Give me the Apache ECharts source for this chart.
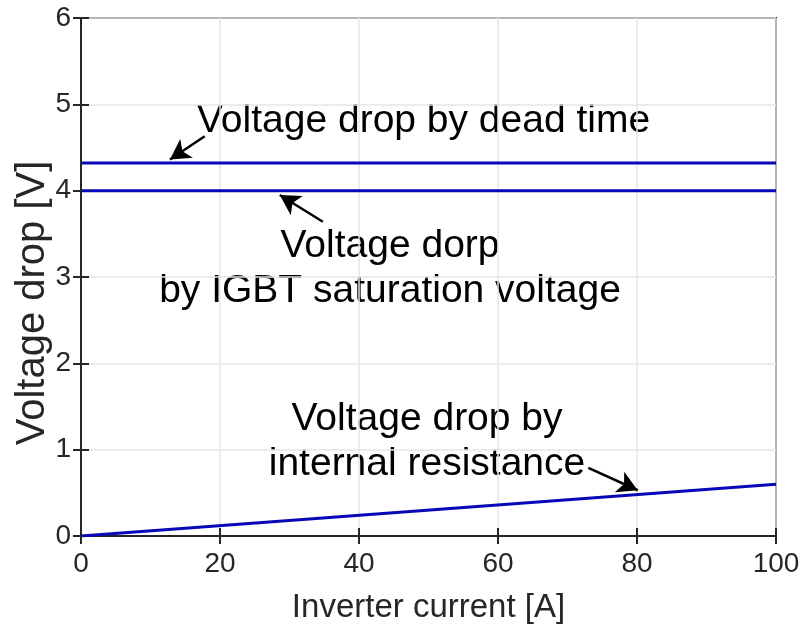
<!DOCTYPE html>
<html>
<head>
<meta charset="utf-8">
<script src="https://cdn.jsdelivr.net/npm/echarts@6/dist/echarts.min.js"></script>
<style>
  html, body { margin: 0; padding: 0; background: #fff; }
  #chart { width: 806px; height: 632px; }
</style>
</head>
<body>
<div id="chart"></div>
<script>
// Inverter current sweep [A]
const current = [0, 100];
// Voltage drop components [V]
const deadTimeDrop = [4.32, 4.32];
const igbtSatDrop = [4.0, 4.0];
const resistanceDrop = [0, 0.6];

const xTicks = [0, 20, 40, 60, 80, 100];
const yTicks = [0, 1, 2, 3, 4, 5, 6];

// Annotation arrows in data coordinates: [from, to]
const arrows = [
  [[17.8, 4.63], [12.8, 4.36]],
  [[34.8, 3.64], [28.6, 3.95]],
  [[73.0, 0.79], [80.1, 0.53]]
];

const axisColor = '#262626';
const lineColor = '#0808b8';
const font = 'Liberation Sans, Arial, sans-serif';

const chart = echarts.init(document.getElementById('chart'), null, { renderer: 'canvas' });

function pairs(ys) { return current.map((x, i) => [x, ys[i]]); }

const tickInside = { show: true, inside: true, length: 8, lineStyle: { color: axisColor, width: 2 } };

chart.setOption({
  animation: false,
  backgroundColor: '#fff',
  grid: {
    left: 81, right: 30, top: 18, bottom: 96,
    outerBoundsMode: 'none', containLabel: false,
    show: true, borderColor: axisColor, borderWidth: 2, backgroundColor: 'transparent'
  },
  xAxis: [{
    type: 'value', min: xTicks[0], max: xTicks[xTicks.length - 1], interval: 20,
    name: 'Inverter current [A]', nameLocation: 'middle', nameGap: 55, nameMoveOverlap: false,
    nameTextStyle: { fontFamily: font, fontSize: 33, color: axisColor },
    axisLine: { show: true, onZero: false, lineStyle: { color: axisColor, width: 2 } },
    axisTick: tickInside,
    axisLabel: { fontFamily: font, fontSize: 28, color: axisColor, margin: 14 },
    splitLine: { show: true, lineStyle: { color: '#e6e6e6', width: 1.5 } }
  }, {
    type: 'value', position: 'top', min: 0, max: 100, interval: 20,
    axisLine: { show: false }, axisTick: tickInside, axisLabel: { show: false }, splitLine: { show: false }
  }],
  yAxis: [{
    type: 'value', min: yTicks[0], max: yTicks[yTicks.length - 1], interval: 1,
    name: 'Voltage drop [V]', nameLocation: 'middle', nameGap: 28, nameMoveOverlap: false,
    nameTextStyle: { fontFamily: font, fontSize: 40, color: axisColor, padding: [0, 52, 0, 0] },
    axisLine: { show: true, onZero: false, lineStyle: { color: axisColor, width: 2 } },
    axisTick: tickInside,
    axisLabel: { fontFamily: font, fontSize: 28, color: axisColor, margin: 10 },
    splitLine: { show: true, lineStyle: { color: '#e6e6e6', width: 1.5 } }
  }, {
    type: 'value', position: 'right', min: 0, max: 6, interval: 1,
    axisLine: { show: false }, axisTick: tickInside, axisLabel: { show: false }, splitLine: { show: false }
  }],
  series: [
    { type: 'line', data: pairs(deadTimeDrop), symbol: 'none', lineStyle: { color: lineColor, width: 3 } },
    { type: 'line', data: pairs(igbtSatDrop), symbol: 'none', lineStyle: { color: lineColor, width: 3 } },
    {
      type: 'line', data: pairs(resistanceDrop), symbol: 'none', lineStyle: { color: lineColor, width: 3 },
      markLine: {
        silent: true, symbol: ['none', 'arrow'], symbolSize: [17, 20],
        label: { show: false },
        lineStyle: { color: '#000', width: 2.5, type: 'solid' },
        data: arrows.map(a => [{ coord: a[0] }, { coord: a[1] }])
      }
    }
  ],
  graphic: [
    { type: 'text', left: 197, top: 102, style: { text: 'Voltage drop by dead time', fontFamily: font, fontSize: 39, fill: '#000' } },
    { type: 'text', x: 390, y: 224, style: { text: 'Voltage dorp\nby IGBT saturation voltage', fontFamily: font, fontSize: 39, lineHeight: 45, fill: '#000', align: 'center', verticalAlign: 'top' } },
    { type: 'text', x: 427, y: 397, style: { text: 'Voltage drop by\ninternal resistance', fontFamily: font, fontSize: 39, lineHeight: 45, fill: '#000', align: 'center', verticalAlign: 'top' } }
  ]
});
</script>
</body>
</html>
